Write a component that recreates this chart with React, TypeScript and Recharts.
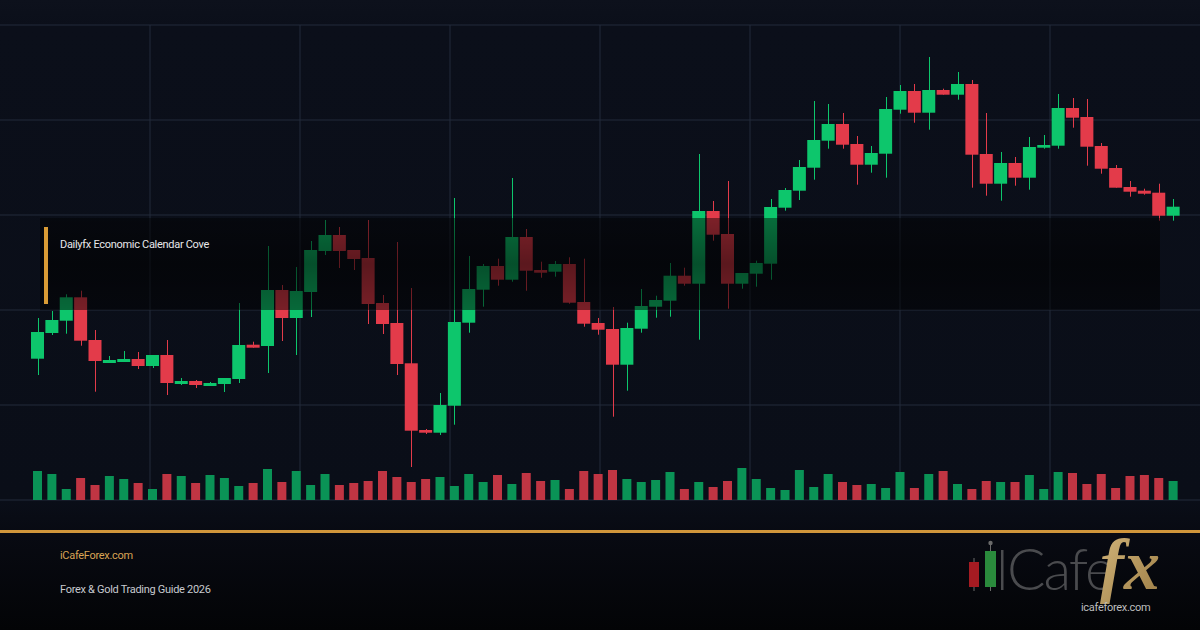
import React from "react";
import { Bar, CartesianGrid, Cell, ComposedChart, XAxis, YAxis } from "recharts";

// price in chart points, one candle per session
const opens = [
  141.3, 167, 179.3, 202.7, 160, 137, 138, 141, 134, 145,
  116, 119, 114, 116, 121, 155.3, 154, 210, 182, 208,
  249, 265, 250, 242, 197, 177, 136.7, 70, 67.3, 94.3,
  177.3, 210.3, 234, 220.3, 263, 230, 228.3, 236, 198, 177,
  171, 135.3, 171.3, 193.3, 199.3, 224.3, 216.3, 289, 266, 216.3,
  226.3, 236.3, 292.3, 309.3, 332.3, 359.3, 376, 356, 335.3, 346.3,
  390.3, 409, 387.3, 410, 405.3, 416, 346, 316.3, 337, 322.3,
  352.3, 354.3, 392, 383, 354, 332, 313, 309.3, 307.3, 284.3,
];
const closes = [
  168, 180, 202.7, 159.3, 139, 140, 141, 134, 145, 117,
  119, 115, 117, 122, 155, 152.3, 210, 182, 209, 250,
  265, 249, 241, 196, 176, 136, 69.3, 67.3, 95, 178,
  211, 234, 220.3, 263, 229.3, 227.3, 236, 197.3, 176.3, 170.3,
  135.3, 172, 194, 200, 224.3, 216.3, 289, 265.3, 216.3, 227,
  237, 293, 310, 333, 360, 376, 355.3, 335.3, 347, 391,
  409, 387.3, 410, 405.3, 416, 345.3, 316.3, 337, 322.3, 353,
  355, 392, 382.3, 353.3, 331.3, 312.3, 308.3, 306.3, 284.3, 293.3,
];
const highs = [
  182, 189, 205.7, 209.3, 170, 144, 149, 148, 145, 160,
  122, 120, 118, 122, 197, 158.3, 254, 215, 233, 259,
  280, 273, 250, 280, 205, 258, 212, 71, 107, 302,
  244, 236, 241.3, 322, 271, 238.3, 239, 242.7, 241.3, 182,
  193, 177.3, 211, 204.3, 237, 232.3, 346, 299, 319, 227,
  239.3, 301, 312, 340, 399, 396, 387, 364, 354, 403,
  415, 416, 443, 411.3, 428, 420, 387, 348, 343, 363,
  365, 406, 402, 401, 357, 335, 319, 311.3, 316.3, 301,
];
const lows = [
  125, 165, 166.3, 154.3, 108.3, 137, 138, 131, 132, 105,
  115, 112, 114, 108, 117, 152.3, 127, 159, 145, 183,
  245, 232, 230, 176, 166, 125, 33, 66, 65, 75.3,
  167.3, 193.3, 214.3, 218.3, 209.3, 222.3, 223.3, 196.3, 173.3, 165.3,
  83.3, 109.3, 167.3, 182.3, 183.3, 214.3, 160.3, 259.3, 191.3, 211.3,
  213.3, 220.3, 289.3, 300, 320.3, 351.3, 351.3, 315.3, 327.3, 322.3,
  386.3, 377.3, 370.3, 405.3, 400.3, 312.3, 304.3, 299.3, 314.3, 310.3,
  351.3, 351.3, 372.3, 334.3, 326.3, 312.3, 303.3, 305.3, 279.3, 279.3,
];
const volumes = [
  2900, 2600, 1100, 2200, 1500, 2400, 2100, 1700, 1100, 2600,
  2400, 1700, 2500, 2200, 1400, 1700, 3100, 1800, 2900, 1500,
  2600, 1500, 1700, 1900, 2900, 2300, 1800, 2100, 2300, 1400,
  2600, 1800, 2500, 1600, 2700, 1900, 2000, 1100, 2900, 2600,
  3000, 2100, 1800, 2000, 2800, 1100, 1800, 1300, 1900, 3200,
  2100, 1200, 1000, 3000, 1300, 2600, 1800, 1500, 1600, 1200,
  2800, 1200, 2600, 2900, 1600, 1100, 1900, 1800, 1800, 2500,
  1100, 2800, 2700, 1600, 2600, 1200, 2400, 2500, 2200, 1900,
];
const priceTicks = [0, 95, 190, 285, 380, 475];

const GREEN = "#0dc66c";
const RED = "#e33b4a";
const VOL_GREEN = "#0a9356";
const VOL_RED = "#c03543";
const GRID = "#232a3b";

const data = opens.map((open, i) => ({
  i,
  open,
  close: closes[i],
  high: highs[i],
  low: lows[i],
  volume: volumes[i],
}));

function Candle(props: any) {
  const { x, y, width, height, payload } = props;
  const { open, close, high, low } = payload;
  const top = Math.min(y, y + height);
  const h = Math.abs(height);
  const k = high > low ? h / (high - low) : 0;
  const yOf = (v: number) => top + (high - v) * k;
  const up = close >= open;
  const color = up ? GREEN : RED;
  const bodyTop = yOf(Math.max(open, close));
  const bodyBot = yOf(Math.min(open, close));
  const cx = Math.round(x + width / 2) + 0.5;
  return (
    <g>
      <line x1={cx} x2={cx} y1={top} y2={top + h} stroke={color} strokeWidth={1} />
      <rect x={x} y={bodyTop} width={width} height={Math.max(1.5, bodyBot - bodyTop)} fill={color} />
    </g>
  );
}

function Logo() {
  return (
    <svg width={250} height={115} style={{ position: "absolute", left: 950, top: 515 }}>
      <defs>
        <linearGradient id="gold" x1="0" y1="0" x2="1" y2="1">
          <stop offset="0%" stopColor="#d4b77c" />
          <stop offset="100%" stopColor="#9c7d45" />
        </linearGradient>
      </defs>
      <line x1={24} x2={24} y1={43} y2={76} stroke="#6a6a6a" strokeWidth={1} />
      <rect x={19} y={47} width={10} height={25} fill="#a51b22" />
      <line x1={40.5} x2={40.5} y1={28} y2={76} stroke="#6a6a6a" strokeWidth={1} />
      <circle cx={40.5} cy={28} r={2.2} fill="#6a6a6a" />
      <rect x={35} y={36} width={11} height={36} fill="#2a8a3c" />
      <rect x={51} y={35} width={2.5} height={40} fill="#4a4b4e" />
      <text x={57} y={75} fontFamily="Lato" fontWeight={300} fontSize={57} letterSpacing={-2} fill="#4a4b4e">
        Cafe
      </text>
      <text x={150} y={74} fontFamily="Liberation Serif" fontStyle="italic" fontWeight={700} fontSize={72} fill="url(#gold)">
        fx
      </text>
      <text x={131} y={96} fontFamily="Roboto" fontSize={11} letterSpacing={-0.3} fill="#bdbdbd">
        icafeforex.com
      </text>
    </svg>
  );
}

export default function App() {
  return (
    <div
      style={{
        position: "fixed",
        left: 0,
        top: 0,
        width: 1200,
        height: 630,
        overflow: "hidden",
        fontFamily: "Roboto, sans-serif",
        background:
          "linear-gradient(180deg, #0d111c 0px, #0b0f1a 25px, #0a0e18 500px, #080a12 535px, #030406 630px)",
      }}
    >
      <ComposedChart width={1200} height={630} data={data} margin={{ top: 25, right: 0, bottom: 130, left: 0 }}>
        <CartesianGrid
          stroke={GRID}
          xAxisId="px"
          yAxisId="price"
          verticalPoints={[150, 300, 450, 600, 750, 900, 1050]}
        />
        <XAxis xAxisId="px" dataKey="i" type="category" hide padding={{ left: 30, right: 20 }} />
        <XAxis xAxisId="vx" dataKey="i" type="category" hide padding={{ left: 30, right: 20 }} />
        <YAxis yAxisId="price" domain={[0, 475]} ticks={priceTicks} hide />
        <YAxis yAxisId="vol" domain={[0, 47500]} hide />
        <Bar
          xAxisId="vx"
          yAxisId="vol"
          dataKey="volume"
          barSize={9}
          isAnimationActive={false}
        >
          {data.map((d, idx) => (
            <Cell key={`v-${idx}`} fill={d.close >= d.open ? VOL_GREEN : VOL_RED} />
          ))}
        </Bar>
        <Bar
          xAxisId="px"
          yAxisId="price"
          dataKey={(d: any) => [d.low, d.high]}
          barSize={13}
          shape={<Candle />}
          isAnimationActive={false}
        />
      </ComposedChart>

      <div
        style={{
          position: "absolute",
          left: 40,
          top: 218,
          width: 1120,
          height: 92,
          background:
            "linear-gradient(180deg, rgba(0,0,0,0.45) 0%, rgba(0,0,0,0.6) 50%, rgba(0,0,0,0.47) 100%)",
        }}
      />
      <div style={{ position: "absolute", left: 44, top: 227, width: 4, height: 77, background: "#d99b35" }} />
      <div
        style={{
          position: "absolute",
          left: 60,
          top: 238,
          fontSize: 11,
          lineHeight: "14px",
          letterSpacing: -0.3,
          color: "#e8e8ea",
          whiteSpace: "nowrap",
        }}
      >
        Dailyfx Economic Calendar Cove
      </div>

      <div style={{ position: "absolute", left: 0, top: 530, width: 1200, height: 3, background: "#d1963b" }} />
      <div
        style={{
          position: "absolute",
          left: 60,
          top: 549,
          fontSize: 11,
          lineHeight: "14px",
          letterSpacing: -0.3,
          color: "#d9a354",
          whiteSpace: "nowrap",
        }}
      >
        iCafeForex.com
      </div>
      <div
        style={{
          position: "absolute",
          left: 60,
          top: 583,
          fontSize: 11,
          lineHeight: "14px",
          letterSpacing: -0.3,
          color: "#c8cacf",
          whiteSpace: "nowrap",
        }}
      >
        Forex &amp; Gold Trading Guide 2026
      </div>
      <Logo />
    </div>
  );
}
